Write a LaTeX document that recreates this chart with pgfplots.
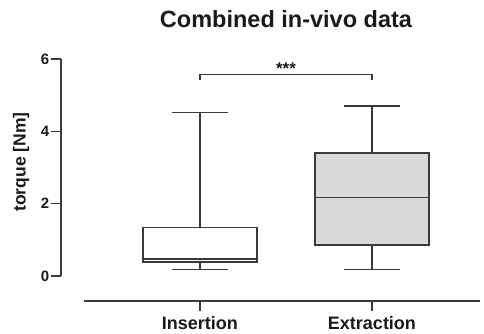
\documentclass[border=0pt]{standalone}
\usepackage{fontspec}
\setmainfont{Liberation Sans}
\usepackage{pgfplots}
\pgfplotsset{compat=1.18}
\usepgfplotslibrary{statistics}
\definecolor{ln}{RGB}{58,58,58}
\definecolor{boxfill}{RGB}{217,217,219}
\definecolor{txt}{RGB}{26,26,26}
\begin{document}
\begin{tikzpicture}
\begin{axis}[
  scale only axis,
  width=419pt, height=242pt,
  xmin=-0.808, xmax=1.628,
  ymin=-0.691, ymax=6,
  axis x line=bottom, axis y line=left,
  x axis line style={-, shorten <=23pt, line width=1.1pt, color=ln},
  y axis line style={-, shorten <=25pt, line width=1.1pt, color=ln},
  tick align=outside,
  major tick length=10pt,
  every tick/.style={line width=1.1pt, color=ln},
  xtick={0,1}, xticklabels={Insertion,Extraction},
  ytick={0,2,4,6},
  xticklabel style={font=\fontsize{18}{20}\selectfont\bfseries, text=txt, yshift=-2pt},
  yticklabel style={font=\fontsize{15}{17}\selectfont\bfseries, text=txt, inner sep=1.5pt},
  clip=false,
  boxplot/draw direction=y,
  boxplot/every median/.style={line width=1.2pt},
  /pgf/number format/assume math mode=true,
]
\addplot+[boxplot prepared={median=0.47, upper quartile=1.335, lower quartile=0.387,
  upper whisker=4.51, lower whisker=0.17, draw position=0, box extend=0.663, whisker extend=0.33},
  draw=ln, fill=white, line width=1.2pt, solid, mark=none] coordinates {};
\addplot+[boxplot prepared={median=2.165, upper quartile=3.40, lower quartile=0.857,
  upper whisker=4.70, lower whisker=0.17, draw position=1, box extend=0.663, whisker extend=0.33},
  draw=ln, fill=boxfill, line width=1.2pt, solid, mark=none] coordinates {};
\draw[ln, line width=1.2pt] (axis cs:0,5.42) -- (axis cs:0,5.576) -- (axis cs:1,5.576) -- (axis cs:1,5.42);
\node[font=\fontsize{17}{18}\selectfont\bfseries, text=txt] at (axis cs:0.5,5.72) {***};
\node[font=\fontsize{23.5}{26}\selectfont\bfseries, text=txt] at (axis cs:0.5,7.1) {Combined in-vivo data};
\node[font=\fontsize{17.5}{20}\selectfont\bfseries, text=txt, rotate=90] at (axis cs:-1.04,3.15) {torque [Nm]};
\end{axis}
\pgfresetboundingbox
\useasboundingbox (-61pt,-32pt) rectangle (423pt,301pt);
\end{tikzpicture}
\end{document}
